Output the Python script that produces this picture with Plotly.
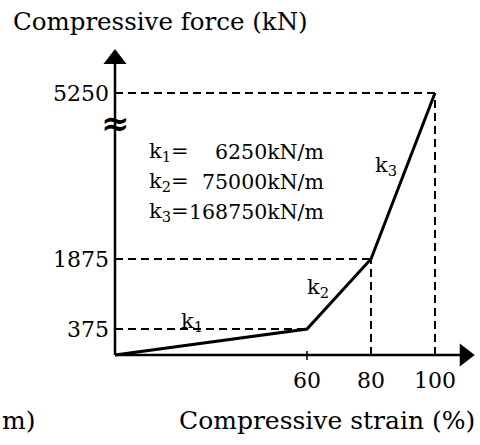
import numpy as np
import plotly.graph_objects as go

# ---- data ----
strain = [0, 60, 80, 100]            # compressive strain (%)
force = [0, 375, 1875, 5250]         # compressive force (kN)
y_ticks = [375, 1875, 5250]
y_tick_text = ["375", "1875", "5250"]
x_ticks = [60, 80, 100]
x_tick_text = ["60", "80", "100"]
k_names = ["k<sub>1</sub>", "k<sub>2</sub>", "k<sub>3</sub>"]
k_values = ["6250kN/m", "75000kN/m", "168750kN/m"]

# broken (non-linear) force axis: value -> display position
brk_vals = [0, 375, 1875, 5250]
brk_disp = [0, 26, 96, 262]
def fy(v):
    return np.interp(v, brk_vals, brk_disp)

W, H = 480, 445
X0PX, Y0PX, SX = 115, 355, 3.2
xr = [-X0PX / SX, (W - X0PX) / SX]
yr = [-(H - Y0PX), Y0PX]

FONT = "DejaVu Serif, Liberation Serif, serif"
fig = go.Figure()

# dashed guide lines
for i in range(1, 4):
    fig.add_trace(go.Scatter(x=[0, strain[i]], y=[fy(force[i])] * 2, mode="lines",
                             line=dict(color="black", width=2, dash="8px,5px"), hoverinfo="skip"))
for i in range(2, 4):
    fig.add_trace(go.Scatter(x=[strain[i]] * 2, y=[0, fy(force[i])], mode="lines",
                             line=dict(color="black", width=2, dash="8px,5px"), hoverinfo="skip"))

# axes lines
ytop = fy(5250) + 30
xend = 108
fig.add_trace(go.Scatter(x=[0, 0], y=[0, ytop], mode="lines", line=dict(color="black", width=2.5), hoverinfo="skip"))
fig.add_trace(go.Scatter(x=[0, xend], y=[0, 0], mode="lines", line=dict(color="black", width=2.5), hoverinfo="skip"))
fig.add_trace(go.Scatter(x=[0], y=[ytop + 4], mode="markers",
                         marker=dict(symbol="triangle-up", size=20, color="black"), hoverinfo="skip"))
fig.add_trace(go.Scatter(x=[xend + 1.3], y=[0], mode="markers",
                         marker=dict(symbol="triangle-right", size=20, color="black"), hoverinfo="skip"))
# small tick at 60
fig.add_trace(go.Scatter(x=[x_ticks[0]] * 2, y=[-5, 4], mode="lines",
                         line=dict(color="black", width=1.5), hoverinfo="skip"))

# main curve
fig.add_trace(go.Scatter(x=strain, y=fy(force), mode="lines",
                         line=dict(color="black", width=3), hoverinfo="skip"))

fig.update_layout(
    width=W, height=H, margin=dict(l=0, r=0, t=0, b=0),
    paper_bgcolor="white", plot_bgcolor="white", showlegend=False,
    font=dict(family=FONT, size=22, color="black"),
    xaxis=dict(range=xr, showgrid=False, zeroline=False, showline=False,
               tickvals=x_ticks, ticktext=x_tick_text, ticks="",
               anchor="free", position=(H - Y0PX) / H, ticklabelstandoff=10,
               tickfont=dict(family=FONT, size=22)),
    yaxis=dict(range=yr, showgrid=False, zeroline=False, showline=False,
               tickvals=list(fy(y_ticks)), ticktext=y_tick_text, ticks="",
               anchor="free", position=X0PX / W, ticklabelstandoff=6,
               tickfont=dict(family=FONT, size=22)),
)

def ann(text, x, y, size=22, xanchor="center", **kw):
    fig.add_annotation(text=text, x=x / W, y=1 - y / H, xref="paper", yref="paper",
                       showarrow=False, xanchor=xanchor, yanchor="middle",
                       font=dict(family=FONT, size=size, color="black"), **kw)

ann("Compressive force (kN)", 160, 22, size=24.5)
ann("Compressive strain (%)", 327, 420, size=25)
ann("m)", 0, 420, size=25, xanchor="left")
ann("<b>≈</b>", 115, 123, size=34)

rows_y = [152, 182, 212]
for name, val, yy in zip(k_names, k_values, rows_y):
    ann(name + "=", 147, yy, size=21, xanchor="left")
    ann(val, 326, yy, size=20.5, xanchor="right")

ann(k_names[0], 192, 322, size=21)
ann(k_names[1], 318, 288, size=21)
ann(k_names[2], 386, 166, size=21)

fig.write_html("out.html")
